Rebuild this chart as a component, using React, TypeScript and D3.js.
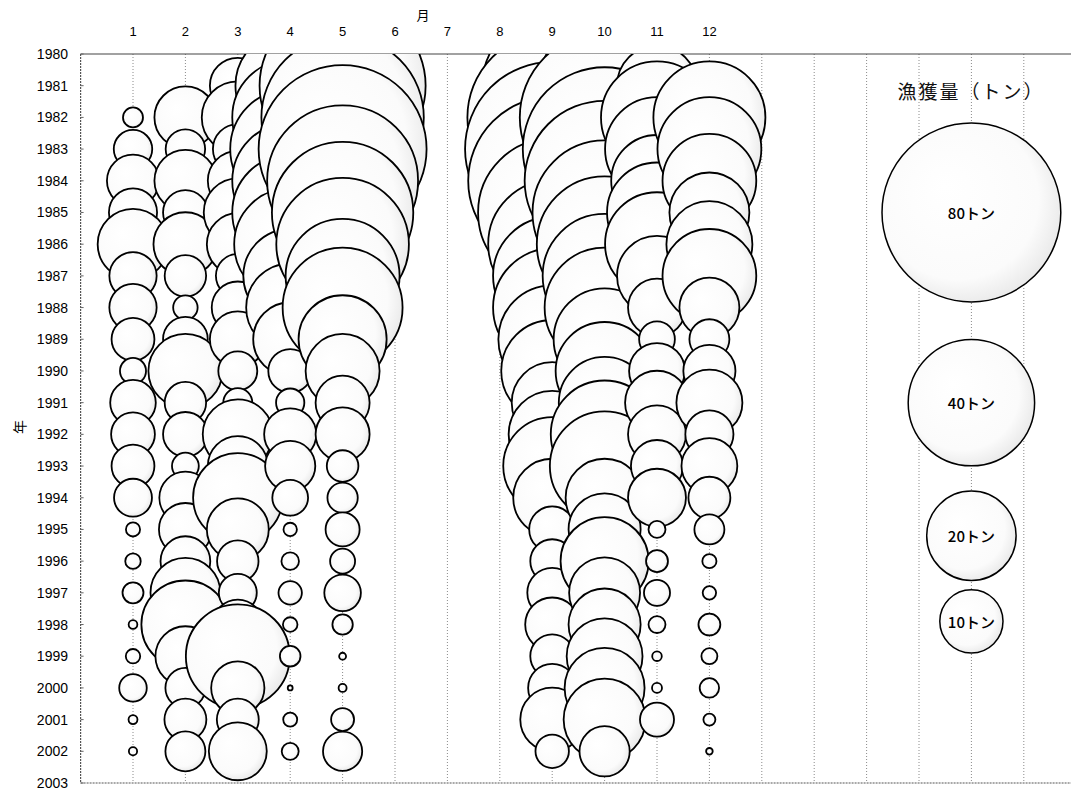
import React from 'react';
import * as d3 from 'd3';

// Month categories (x) and year categories (y)
const monthTicks = [1, 2, 3, 4, 5, 6, 7, 8, 9, 10, 11, 12];
const yearTicks = [1980, 1981, 1982, 1983, 1984, 1985, 1986, 1987, 1988, 1989, 1990, 1991,
  1992, 1993, 1994, 1995, 1996, 1997, 1998, 1999, 2000, 2001, 2002, 2003];
const dataYears = [1980, 1981, 1982, 1983, 1984, 1985, 1986, 1987, 1988, 1989, 1990, 1991,
  1992, 1993, 1994, 1995, 1996, 1997, 1998, 1999, 2000, 2001, 2002];

// Catch (tons) per month, years 1980..2002
const catchJan = [0, 0, 1.0, 3.7, 6.8, 5.8, 12.5, 5.6, 5.6, 4.6, 1.7, 5.2, 4.8, 4.6, 3.6, 0.5, 0.6, 1.1, 0.19, 0.52, 1.9, 0.2, 0.17];
const catchFeb = [0, 0, 9.6, 3.9, 9.6, 5.0, 10.2, 4.3, 1.5, 5.0, 13.7, 4.3, 5.0, 1.8, 6.8, 7.0, 6.2, 12.2, 19.4, 9.0, 4.0, 4.4, 4.0];
const catchMar = [0, 7.8, 13.0, 6.2, 9.0, 11.6, 9.6, 4.8, 6.8, 7.8, 3.8, 2.1, 12.3, 9.0, 20.0, 9.6, 4.3, 3.6, 6.2, 27.0, 7.1, 4.4, 8.4];
const catchApr = [0, 30.0, 33.6, 36.0, 33.6, 33.6, 31.4, 22.0, 19.4, 13.7, 4.8, 2.0, 6.8, 6.3, 3.2, 0.45, 0.77, 1.37, 0.53, 1.06, 0.06, 0.49, 0.72];
const catchMay = [0, 69.0, 66.0, 70.6, 57.0, 50.0, 44.0, 32.5, 36.0, 19.4, 13.7, 7.3, 7.3, 2.5, 2.3, 2.9, 1.56, 3.35, 1.04, 0.12, 0.16, 1.32, 3.84];
const catchJun = [0, 0, 0, 0, 0, 0, 0, 0, 0, 0, 0, 0, 0, 0, 0, 0, 0, 0, 0, 0, 0, 0, 0];
const catchJul = [0, 0, 0, 0, 0, 0, 0, 0, 0, 0, 0, 0, 0, 0, 0, 0, 0, 0, 0, 0, 0, 0, 0];
const catchAug = [0, 0, 0, 0, 0, 0, 0, 0, 0, 0, 0, 0, 0, 0, 0, 0, 0, 0, 0, 0, 0, 0, 0];
const catchSep = [0, 49.0, 72.0, 76.0, 70.6, 55.0, 41.0, 35.0, 35.0, 29.0, 26.0, 16.4, 19.0, 24.0, 15.2, 5.3, 4.8, 6.2, 7.3, 4.8, 5.8, 10.2, 2.8];
const catchOct = [0, 43.6, 72.0, 67.0, 64.0, 52.0, 46.0, 38.4, 36.0, 26.0, 24.0, 21.0, 29.0, 30.0, 15.2, 13.0, 19.4, 12.6, 13.0, 14.4, 16.0, 16.8, 6.3];
const catchNov = [0, 16.0, 31.4, 27.0, 21.0, 25.0, 27.0, 16.0, 8.4, 3.2, 7.8, 10.2, 8.4, 6.8, 8.4, 0.72, 1.2, 1.7, 0.72, 0.23, 0.25, 2.9, 0];
const catchDec = [0, 0, 31.4, 27.0, 22.0, 16.0, 18.5, 22.0, 9.0, 4.0, 6.8, 10.9, 5.8, 7.8, 4.4, 2.25, 0.5, 0.45, 1.2, 0.64, 0.94, 0.36, 0.11];

const catchByMonth = [catchJan, catchFeb, catchMar, catchApr, catchMay, catchJun,
  catchJul, catchAug, catchSep, catchOct, catchNov, catchDec];

// Size legend
const legendValues = [80, 40, 20, 10];
const legendLabels = ['80トン', '40トン', '20トン', '10トン'];

export default function App() {
  const W = 1071;
  const H = 796;
  const left = 80.6;
  const step = 52.4;
  const top = 54;
  const bottom = 783;
  const xMax = 19;

  const x = d3.scaleLinear().domain([0, xMax]).range([left, left + xMax * step]);
  const y = d3.scaleLinear().domain([1980, 2003]).range([top, bottom]);
  const r = d3.scaleSqrt().domain([0, 80]).range([0, 89.4]);

  const gridXs = d3.range(1, xMax + 1);

  const bubbles: { m: number; yr: number; v: number }[] = [];
  monthTicks.forEach((m, i) => {
    catchByMonth[i].forEach((v, j) => {
      if (v > 0) bubbles.push({ m, yr: dataYears[j], v });
    });
  });

  const legendX = 17;
  const legendRows = [1985, 1991, 1995.2, 1997.9];

  const font = 'Arial, "Liberation Sans", sans-serif';
  const jfont = '"Noto Sans CJK JP", "Noto Sans CJK SC", sans-serif';

  return (
    <svg width={W} height={H} style={{ position: 'absolute', left: 0, top: 0, background: '#fff' }}
      xmlns="http://www.w3.org/2000/svg">
      <defs>
        <clipPath id="plot">
          <rect x={left} y={top} width={x(xMax) - left} height={bottom - top} />
        </clipPath>
        <radialGradient id="bub" cx="45%" cy="45%" r="60%" fx="35%" fy="35%">
          <stop offset="0%" stopColor="#ffffff" />
          <stop offset="75%" stopColor="#fbfbfb" />
          <stop offset="100%" stopColor="#e6e6e6" />
        </radialGradient>
      </defs>
      <rect x={0} y={0} width={W} height={H} fill="#fff" />

      {/* vertical dotted gridlines */}
      {gridXs.map((g) => (
        <line key={'g' + g} x1={x(g)} x2={x(g)} y1={top} y2={bottom}
          stroke="#8a8a8a" strokeWidth={1} strokeDasharray="1,2" />
      ))}

      {/* plot frame */}
      <line x1={left} x2={x(xMax)} y1={top} y2={top} stroke="#444" strokeWidth={1.2} />
      <line x1={left} x2={x(xMax)} y1={bottom} y2={bottom} stroke="#555" strokeWidth={1.2} strokeDasharray="2,1" />
      <line x1={left} x2={left} y1={top} y2={bottom} stroke="#555" strokeWidth={1.2} strokeDasharray="2,1" />
      {yearTicks.map((yr) => (
        <line key={'t' + yr} x1={left} x2={left + 3} y1={y(yr)} y2={y(yr)} stroke="#666" strokeWidth={1} />
      ))}

      {/* bubbles */}
      <g clipPath="url(#plot)">
        {bubbles.map((b, i) => (
          <circle key={i} cx={x(b.m)} cy={y(b.yr)} r={r(b.v)}
            fill="url(#bub)" stroke="#000" strokeWidth={1.8} />
        ))}
      </g>

      {/* size legend */}
      <text x={971} y={90} textAnchor="middle" dominantBaseline="central"
        fontFamily={jfont} fontSize={19} letterSpacing={2} fill="#111">漁獲量（トン）</text>
      {legendValues.map((v, i) => (
        <g key={'L' + v}>
          <circle cx={x(legendX)} cy={y(legendRows[i])} r={r(v)}
            fill="url(#bub)" stroke="#000" strokeWidth={1.5} />
          <text x={x(legendX)} y={y(legendRows[i])} textAnchor="middle" dominantBaseline="central"
            fontFamily={jfont} fontSize={15} fontWeight={500} fill="#000">{legendLabels[i]}</text>
        </g>
      ))}

      {/* month axis (top) */}
      {monthTicks.map((m) => (
        <text key={'m' + m} x={x(m)} y={31} textAnchor="middle" dominantBaseline="central"
          fontFamily={font} fontSize={13} fill="#000">{m}</text>
      ))}
      <text x={423} y={14} textAnchor="middle" dominantBaseline="central"
        fontFamily={jfont} fontSize={13} fill="#000">月</text>

      {/* year axis (left) */}
      {yearTicks.map((yr) => (
        <text key={'y' + yr} x={68} y={y(yr)} textAnchor="end" dominantBaseline="central"
          fontFamily={font} fontSize={14} fill="#000">{yr}</text>
      ))}
      <text x={19} y={427} textAnchor="middle" dominantBaseline="central"
        fontFamily={jfont} fontSize={14} fill="#000" transform="rotate(-90 19 427)">年</text>
    </svg>
  );
}
